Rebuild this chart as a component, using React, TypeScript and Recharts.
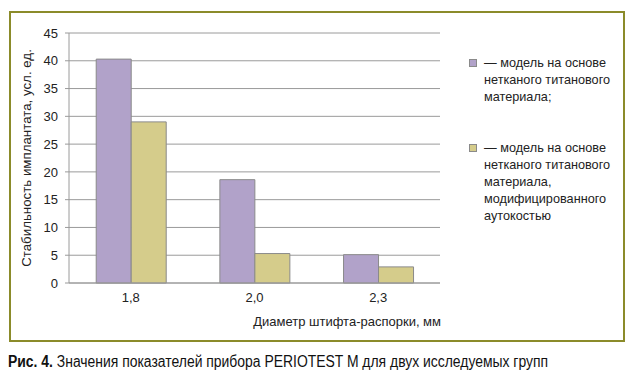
import React from 'react';
import { BarChart, Bar, XAxis, YAxis, CartesianGrid } from 'recharts';

// диаметр штифта-распорки, мм
const diameters = ['1,8', '2,0', '2,3'];
// модель на основе нетканого титанового материала
const titanium = [40.3, 18.6, 5.1];
// то же, модифицированное аутокостью
const titaniumBone = [29.0, 5.3, 2.9];
const yTicks = [0, 5, 10, 15, 20, 25, 30, 35, 40, 45];

const legendItems = [
  { color: '#b1a2c9', lines: ['— модель на основе', 'нетканого титанового', 'материала;'] },
  {
    color: '#d5cc8b',
    lines: ['— модель на основе', 'нетканого титанового', 'материала,', 'модифицированного', 'аутокостью'],
  },
];

const data = diameters.map((d, i) => ({ d, a: titanium[i], b: titaniumBone[i] }));

const font = '"Liberation Sans", Arial, sans-serif';

const XTitle = (props: any) => {
  const { viewBox } = props;
  return (
    <text x={viewBox.x + viewBox.width + 1} y={viewBox.y + 40} textAnchor="end" dominantBaseline="middle"
      fontSize={13} fill="#222" fontFamily={font}>
      Диаметр штифта-распорки, мм
    </text>
  );
};

const YTitle = () => (
  <text x={27} y={158} transform="rotate(-90 27 158)" textAnchor="middle" dominantBaseline="middle"
    fontSize={13.3} fill="#222" fontFamily={font}>
    Стабильность имплантата, усл. ед.
  </text>
);

export default function App() {
  return (
    <div style={{ position: 'relative', width: 633, height: 386, background: '#fff', fontFamily: font }}>
      <style>{'body{margin:0}'}</style>
      <div style={{ position: 'absolute', left: 9, top: 11, width: 612, height: 327, border: '2px solid #8b8b2a' }} />
      <div style={{ position: 'absolute', left: 0, top: 0 }}>
        <BarChart width={460} height={345} data={data} margin={{ top: 33, right: 20, left: 0, bottom: 32 }}
          barCategoryGap="22%" barGap={0}>
          <CartesianGrid vertical={false} stroke="#9a9a9a" />
          <XAxis dataKey="d" tickSize={0} tickMargin={10} stroke="#9a9a9a"
            tick={{ fill: '#222', fontSize: 13, fontFamily: font }} label={<XTitle />} />
          <YAxis width={69} domain={[0, 45]} ticks={yTicks} interval={0} tickSize={4} tickMargin={7} stroke="#9a9a9a"
            tick={{ fill: '#222', fontSize: 13, fontFamily: font }} label={<YTitle />} />
          <Bar dataKey="a" fill={legendItems[0].color} stroke="#8a8a8a" strokeWidth={1} isAnimationActive={false} />
          <Bar dataKey="b" fill={legendItems[1].color} stroke="#8a8a8a" strokeWidth={1} isAnimationActive={false} />
        </BarChart>
      </div>
      {legendItems.map((it, k) => (
        <div key={k} style={{ position: 'absolute', left: 469, top: k === 0 ? 55 : 140, fontSize: 12.7, lineHeight: '17px', color: '#222' }}>
          <div style={{ position: 'absolute', left: 0, top: 4, width: 6, height: 6, background: it.color, border: '1px solid #8a8a8a' }} />
          <div style={{ marginLeft: 15 }}>
            {it.lines.map((l, j) => (
              <div key={j} style={{ whiteSpace: 'nowrap' }}>{l}</div>
            ))}
          </div>
        </div>
      ))}
      <div style={{ position: 'absolute', left: 8, top: 353, fontSize: 16, color: '#111', whiteSpace: 'nowrap',
        transform: 'scaleX(0.87)', transformOrigin: 'left center' }}>
        <b>Рис. 4.</b> Значения показателей прибора PERIOTEST M для двух исследуемых групп
      </div>
    </div>
  );
}
